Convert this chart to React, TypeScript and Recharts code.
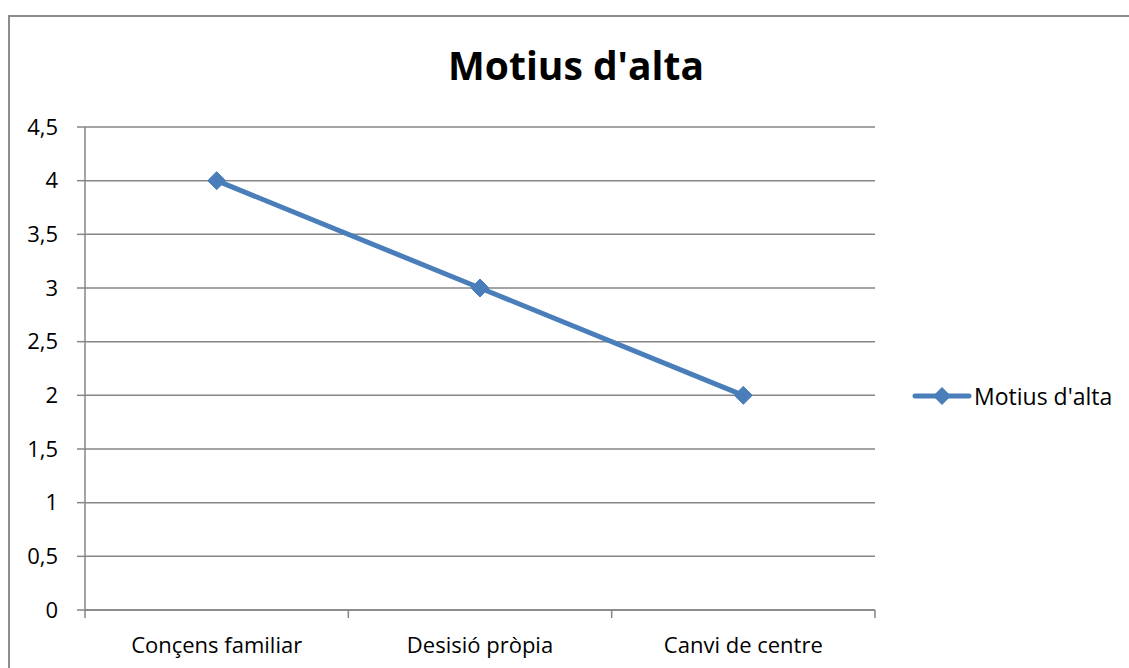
import { LineChart, Line, XAxis, YAxis, CartesianGrid } from 'recharts'

const CATEGORIES = ['Conçens familiar', 'Desisió pròpia', 'Canvi de centre']
const VALUES = [4, 3, 2]
const Y_TICKS = [0, 0.5, 1, 1.5, 2, 2.5, 3, 3.5, 4, 4.5]
const SERIES_NAME = "Motius d'alta"
const TITLE = "Motius d'alta"

const data = CATEGORIES.map((c, i) => ({ cat: c, value: VALUES[i] }))

const FONT = '"Open Sans", "Noto Sans", sans-serif'
const LINE = '#4A7EBB'
const GRID = '#868686'

// plot box: x 85..875, so each category slot is 790/3 wide
const PLOT_W = 790
const HALF = PLOT_W / CATEGORIES.length / 2

function Diamond(props: any) {
  const { cx, cy } = props
  if (cx == null || cy == null) return null
  const r = 9
  return <polygon points={`${cx},${cy - r} ${cx + r},${cy} ${cx},${cy + r} ${cx - r},${cy}`} fill={LINE} stroke={LINE} strokeWidth={1} />
}

function CatTick(props: any) {
  const { x, y, payload, index } = props
  const last = index === CATEGORIES.length - 1
  return (
    <g>
      <line x1={x - HALF} x2={x - HALF} y1={y - 8} y2={y} stroke={GRID} strokeWidth={1.5} />
      {last && <line x1={x + HALF} x2={x + HALF} y1={y - 8} y2={y} stroke={GRID} strokeWidth={1.5} />}
      <text x={x} y={y + 35} textAnchor="middle" fontSize={22} fill="#000" fontFamily={FONT}>{payload.value}</text>
    </g>
  )
}

export default function App() {
  return (
    <div style={{ position: 'fixed', left: 0, top: 0, width: 1129, height: 668, overflow: 'hidden', background: '#fff' }}>
      <div style={{ position: 'absolute', left: 8, top: 15, width: 1300, height: 900, border: '2px solid #8c8c8c' }} />
      <div style={{ position: 'absolute', left: 326, width: 500, top: 45, lineHeight: '39px', textAlign: 'center', fontFamily: FONT, fontWeight: 700, fontSize: 39, color: '#000' }}>
        {TITLE}
      </div>
      <div style={{ position: 'absolute', left: 0, top: 0 }}>
        <LineChart width={1129} height={668} data={data} margin={{ top: 127, right: 254, bottom: 8, left: 25 }}>
          <CartesianGrid horizontal vertical={false} stroke={GRID} strokeWidth={1.5} />
          <XAxis dataKey="cat" height={50} padding={{ left: HALF, right: HALF }} axisLine={{ stroke: GRID, strokeWidth: 1.5 }} tickLine={false} tickSize={8} tickMargin={0} interval={0} tick={<CatTick />} />
          <YAxis width={60} domain={[0, 4.5]} ticks={Y_TICKS} interval={0} axisLine={{ stroke: GRID, strokeWidth: 1.5 }} tickLine={{ stroke: GRID, strokeWidth: 1.5 }} tickSize={8} tickMargin={19}
            tick={{ fontSize: 22, fill: '#000', fontFamily: FONT }} tickFormatter={(v: number) => String(v).replace('.', ',')} />
          <Line type="linear" dataKey="value" name={SERIES_NAME} stroke={LINE} strokeWidth={5} dot={<Diamond />} activeDot={false} isAnimationActive={false} />
        </LineChart>
      </div>
      <div style={{ position: 'absolute', left: 912, top: 380, display: 'flex', alignItems: 'center', fontFamily: FONT, fontSize: 23, color: '#000' }}>
        <svg width={60} height={30}>
          <line x1={3} x2={57} y1={15} y2={15} stroke={LINE} strokeWidth={5} strokeLinecap="round" />
          <polygon points="30,6 39,15 30,24 21,15" fill={LINE} />
        </svg>
        <span style={{ marginLeft: 2 }}>{SERIES_NAME}</span>
      </div>
    </div>
  )
}
